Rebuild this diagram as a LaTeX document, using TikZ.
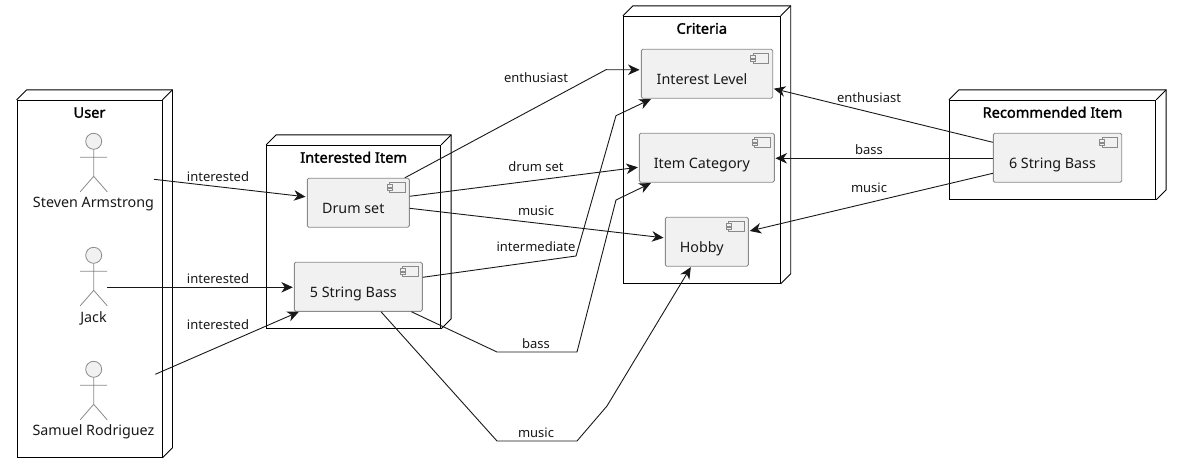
\documentclass[tikz,border=0pt]{standalone}
\usepackage{fontspec}
\setmainfont{Noto Sans}
\newfontfamily\titlefont[FakeBold=1.6]{Noto Sans}
\usepackage{xcolor}
\usepackage{tikz}
\usetikzlibrary{arrows.meta,positioning}
\definecolor{boxfill}{HTML}{F1F1F1}
\definecolor{boxline}{HTML}{8A8A8A}
\definecolor{ink}{HTML}{181818}
\newcommand{\complab}[1]{\hspace*{-10pt}\raisebox{-10.5pt}[0pt][0pt]{#1}}
\tikzset{
  folder/.style={draw=black, line width=0.9pt, inner sep=0pt},
  foldertitle/.style={inner sep=0pt, text height=10pt, text depth=0pt, text=black, font=\fontsize{14.6}{16}\titlefont},
  comp/.style={draw=boxline, fill=boxfill, rounded corners=1.5pt, line width=0.9pt, inner sep=0pt, minimum height=49pt, text=ink, font=\fontsize{14.3}{16}\selectfont},
  icon/.style={draw=boxline, fill=boxfill, line width=0.8pt},
  limbs/.style={draw=boxline, line width=0.8pt},
  who/.style={inner sep=0pt, text=ink, font=\fontsize{14.3}{16}\selectfont},
  elab/.style={inner sep=0pt, text=ink, font=\fontsize{13}{15}\selectfont},
  link/.style={draw=ink, line width=0.9pt, -{Stealth[length=11.5pt,width=10.5pt,inset=3.5pt]}},
  stickman/.pic={
    \draw[icon] (0,0) circle (8);
    \draw[limbs] (0,8) -- (0,35) (-13.5,16) -- (13.5,16) (-13.5,50.5) -- (0,35) -- (13.5,50.5);
  },
}

\begin{document}
\begin{tikzpicture}[x=1pt,y=-1pt]
  \useasboundingbox (0,0) rectangle (1181,473);

  % outer boxes
  \node[folder, minimum width=145pt, minimum height=357pt] (userbox) at (89.5,278.8) {};
  \node[folder, minimum width=174pt, minimum height=183pt] (itembox) at (353.7,236.8) {};
  \node[folder, minimum width=157pt, minimum height=267pt] (critbox) at (701.8,149.8) {};
  \node[folder, minimum width=206.4pt, minimum height=99pt] (recbox) at (1052.5,149.8) {};
  \foreach \n in {userbox,itembox,critbox,recbox} {
    \draw[folder] (\n.north west) -- ++(10,-10) -- ([shift={(10,-10)}]\n.north east) -- ([shift={(10,-10)}]\n.south east) -- (\n.south east);
    \draw[folder] (\n.north east) -- ++(10,-10);
  }
  \node[foldertitle, below=7.7pt of userbox.north] (usertitle) {User};
  \node[foldertitle, below=7.7pt of itembox.north] (itemtitle) {Interested Item};
  \node[foldertitle, below=7.7pt of critbox.north] (crittitle) {Criteria};
  \node[foldertitle, below=7.7pt of recbox.north] (rectitle) {Recommended Item};

  % people
  \pic at (93.7,141.3) {stickman};
  \pic at (93.7,255.3) {stickman};
  \pic at (93.7,369.3) {stickman};
  \node[who] (steven) at (93.5,204) {Steven Armstrong};
  \node[who] (jack) at (93.5,318) {Jack};
  \node[who] (samuel) at (93.5,432) {Samuel Rodriguez};
  \coordinate (stevenout) at (154,179.3);
  \coordinate (jackout) at (107,287.3);
  \coordinate (samuelout) at (155.3,374.3);

  % components
  \node[comp, minimum width=102pt] (drum) at (358.3,202.8) {\complab{Drum set}};
  \node[comp, minimum width=128pt] (fivebass) at (358.3,286.8) {\complab{5 String Bass}};
  \node[comp, minimum width=131.4pt] (level) at (707,73.8) {\complab{Interest Level}};
  \node[comp, minimum width=135pt] (category) at (706.8,157.8) {\complab{Item Category}};
  \node[comp, minimum width=83pt] (hobby) at (706.8,241.8) {\complab{Hobby}};
  \node[comp, minimum width=128.4pt] (sixbass) at (1057.5,157.8) {\complab{6 String Bass}};
  \foreach \n in {drum,fivebass,level,category,hobby,sixbass} {
    \draw[icon] ([shift={(-20,4.7)}]\n.north east) rectangle ([shift={(-4.6,15)}]\n.north east);
    \draw[icon] ([shift={(-22.3,6.8)}]\n.north east) rectangle ([shift={(-17.3,9.6)}]\n.north east);
    \draw[icon] ([shift={(-22.3,10.2)}]\n.north east) rectangle ([shift={(-17.3,13)}]\n.north east);
  }

  % connectors
  \draw[link] (stevenout) -- ([shift={(-1.3,-6)}]drum.west);
  \draw[link] (jackout) -- ([shift={(-1,0.5)}]fivebass.west);
  \draw[link] (samuelout) -- ([shift={(5,25)}]fivebass.west);
  \draw[link] ([shift={(-5,0)}]drum.north east) -- (606,69.7) -- ([shift={(-1.3,-4)}]level.west);
  \draw[link] ([shift={(0,-6.5)}]drum.east) -- ([shift={(-1,9.5)}]category.west);
  \draw[link] ([shift={(0,5.5)}]drum.east) -- ([shift={(-1.3,-4)}]hobby.west);
  \draw[link] ([shift={(0,-9.5)}]fivebass.east) -- (576,256) -- (616,115.7) -- ([shift={(10,0.4)}]level.south west);
  \draw[link] ([shift={(-11.3,0)}]fivebass.south east) -- (497,352) -- (577,352) -- (616,200) -- ([shift={(12,0.4)}]category.south west);
  \draw[link] ([shift={(22.7,0)}]fivebass.south) -- (497,441) -- (577,441) -- (607,406) -- ([shift={(-16,0.4)}]hobby.south);
  \draw[link] ([shift={(0,-15.5)}]sixbass.west) -- ([shift={(0.7,14.9)}]level.east);
  \draw[link] ([shift={(0,0.5)}]sixbass.west) -- ([shift={(0.7,0.5)}]category.east);
  \draw[link] ([shift={(0,15.5)}]sixbass.west) -- ([shift={(1,-10.8)}]hobby.east);

  % connector labels
  \node[elab] (l1) at (218,176.5) {interested};
  \node[elab] (l2) at (218,278.5) {interested};
  \node[elab] (l3) at (218,324.5) {interested};
  \node[elab] (l4) at (536,77.5) {enthusiast};
  \node[elab] (l5) at (536,166.5) {drum set};
  \node[elab] (l6) at (536,210.5) {music};
  \node[elab] (l7) at (536,246.5) {intermediate};
  \node[elab] (l8) at (536,343.5) {bass};
  \node[elab] (l9) at (536,432.5) {music};
  \node[elab] (l10) at (869,97.5) {enthusiast};
  \node[elab] (l11) at (869,149.5) {bass};
  \node[elab] (l12) at (869,187.5) {music};
\end{tikzpicture}
\end{document}
